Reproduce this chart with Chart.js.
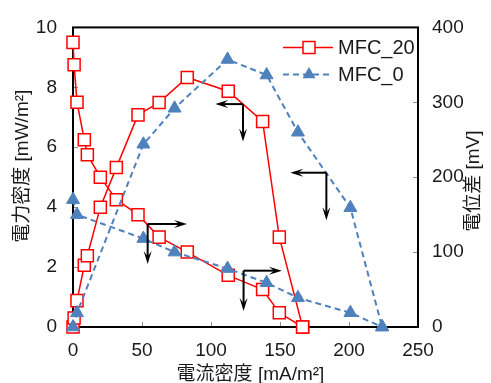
<!DOCTYPE html>
<html>
<head>
<meta charset="utf-8">
<script src="https://cdn.jsdelivr.net/npm/chart.js@4.4.1/dist/chart.umd.min.js"></script>
<style>
  html, body { margin: 0; padding: 0; background: #fff; }
  canvas { display: block; }
</style>
</head>
<body>
<canvas id="chart" width="491" height="383"></canvas>
<script>
// MFC_20 : current density [mA/m2], power density [mW/m2], cell voltage [mV]
var currentMfc20 = [0, 0.8, 2.9, 8.2, 10.4, 19.8, 31.4, 47.1, 62.4, 82.8, 112.5, 137.4, 149.5, 166.4];
var powerMfc20 = [0, 0.30, 0.88, 2.06, 2.38, 4.0, 5.32, 7.08, 7.49, 8.33, 7.87, 6.86, 3.0, 0];
var voltageMfc20 = [380, 350, 300, 250, 230, 200, 170, 150, 120, 100, 69, 50, 19, 0];

// MFC_0
var currentMfc0 = [0, 2.9, 51, 73.6, 112, 140.3, 163, 201, 224];
var powerMfc0 = [0, 0.47, 6.1, 7.3, 8.93, 8.41, 6.5, 3.98, 0];
var voltageMfc0 = [170, 150, 118, 100, 78, 59, 39, 19, 0];

// tick labels
var currentTicks = [0, 50, 100, 150, 200, 250];
var powerTicks = [0, 2, 4, 6, 8, 10];
var voltageTicks = [0, 100, 200, 300, 400];

var seriesNames = ['MFC_20', 'MFC_0'];

// arrows telling which axis a curve belongs to (corner, horizontal tip, vertical tip)
var axisArrows = [
  { x : 123.2, y : 7.44, tipX : 103.1, tipY : 6.19 },
  { x : 183.6, y : 5.15, tipX : 157.5, tipY : 3.56 },
  { x : 54.1, y : 3.44, tipX : 82.6, tipY : 2.10 },
  { x : 123.6, y : 1.88, tipX : 151.4, tipY : 0.53 },
];

var RED = '#ff0000';
var BLUE = '#4f81bd';
var TEXT = '#1a1a1a';
var FONT = "'Liberation Sans', 'Noto Sans CJK JP', Arial, sans-serif";

Chart.defaults.font.family = FONT;
Chart.defaults.color = TEXT;

function points(xs, ys) {
  return xs.map(function (x, i) { return { x : x, y : ys[i] }; });
}

function fixTicks(values) {
  return function (scale) {
    scale.ticks = values.map(function (v) { return { value : v }; });
  };
}

function redSet(data, axis) {
  return {
    data : data,
    yAxisID : axis,
    order : 1,
    clip : false,
    borderColor : RED,
    borderWidth : 1.5,
    pointStyle : 'rect',
    pointRadius : 8.5,
    pointBackgroundColor : '#fff',
    pointBorderColor : RED,
    pointBorderWidth : 1.5,
    tension : 0,
  };
}

function blueSet(data, axis) {
  return {
    data : data,
    yAxisID : axis,
    order : 0,
    clip : false,
    borderColor : BLUE,
    borderWidth : 2,
    borderDash : [6, 4],
    pointStyle : 'triangle',
    pointRadius : 7.5,
    pointBackgroundColor : BLUE,
    pointBorderColor : BLUE,
    pointBorderWidth : 1,
    tension : 0,
  };
}

function drawArrow(ctx, x0, y0, x1, y1) {
  var ang = Math.atan2(y1 - y0, x1 - x0);
  var len = 13;
  var half = 4;
  ctx.beginPath();
  ctx.moveTo(x0, y0);
  ctx.lineTo(x1 - Math.cos(ang) * len * 0.6, y1 - Math.sin(ang) * len * 0.6);
  ctx.stroke();
  ctx.save();
  ctx.translate(x1, y1);
  ctx.rotate(ang);
  ctx.beginPath();
  ctx.moveTo(0, 0);
  ctx.lineTo(-len, -half);
  ctx.lineTo(-len * 0.6, 0);
  ctx.lineTo(-len, half);
  ctx.closePath();
  ctx.fill();
  ctx.restore();
}

function legendMarker(ctx, style, x, y) {
  ctx.beginPath();
  if (style === 'rect') {
    ctx.rect(x - 6, y - 6, 12, 12);
    ctx.fillStyle = '#fff';
    ctx.strokeStyle = RED;
    ctx.lineWidth = 1.5;
    ctx.setLineDash([]);
    ctx.fill();
    ctx.stroke();
  } else {
    ctx.moveTo(x, y - 7.5);
    ctx.lineTo(x + 6.5, y + 3.75);
    ctx.lineTo(x - 6.5, y + 3.75);
    ctx.closePath();
    ctx.fillStyle = BLUE;
    ctx.fill();
  }
}

var decor = {
  id : 'decor',
  beforeDatasetsDraw : function (chart) {
    var ctx = chart.ctx;
    var a = chart.chartArea;
    var sx = chart.scales.x;
    var sy = chart.scales.y;
    var sy1 = chart.scales.y1;
    ctx.save();

    // inner tick marks
    ctx.strokeStyle = '#8c8c8c';
    ctx.lineWidth = 1;
    ctx.beginPath();
    currentTicks.forEach(function (v) {
      var px = Math.round(sx.getPixelForValue(v)) + 0.5;
      ctx.moveTo(px, a.bottom);
      ctx.lineTo(px, a.bottom - 5);
    });
    powerTicks.forEach(function (v) {
      var py = Math.round(sy.getPixelForValue(v)) + 0.5;
      ctx.moveTo(a.left, py);
      ctx.lineTo(a.left + 5, py);
    });
    voltageTicks.forEach(function (v) {
      var py = Math.round(sy1.getPixelForValue(v)) + 0.5;
      ctx.moveTo(a.right, py);
      ctx.lineTo(a.right - 5, py);
    });
    ctx.stroke();

    // frame
    ctx.strokeStyle = '#000';
    ctx.lineWidth = 2;
    ctx.strokeRect(a.left, a.top, a.right - a.left, a.bottom - a.top);
    ctx.restore();
  },
  afterDatasetsDraw : function (chart) {
    var ctx = chart.ctx;
    var a = chart.chartArea;
    var sx = chart.scales.x;
    var sy = chart.scales.y;
    ctx.save();

    // axis arrows
    ctx.strokeStyle = '#000';
    ctx.fillStyle = '#000';
    ctx.lineWidth = 2;
    ctx.setLineDash([]);
    axisArrows.forEach(function (ar) {
      var cx = sx.getPixelForValue(ar.x);
      var cy = sy.getPixelForValue(ar.y);
      drawArrow(ctx, cx, cy, sx.getPixelForValue(ar.tipX), cy);
      drawArrow(ctx, cx, cy, cx, sy.getPixelForValue(ar.tipY));
    });

    // legend (line + marker + label)
    var rows = [
      { name : seriesNames[0], color : RED, dash : [], width : 1.5, style : 'rect' },
      { name : seriesNames[1], color : BLUE, dash : [6, 4], width : 2, style : 'triangle' },
    ];
    rows.forEach(function (r, i) {
      var y = a.top + 20 + i * 27;
      var x0 = a.right - 135;
      ctx.strokeStyle = r.color;
      ctx.lineWidth = r.width;
      ctx.setLineDash(r.dash);
      ctx.beginPath();
      ctx.moveTo(x0, y);
      ctx.lineTo(x0 + 50, y);
      ctx.stroke();
      ctx.setLineDash([]);
      legendMarker(ctx, r.style, x0 + 26, y);
      ctx.fillStyle = TEXT;
      ctx.font = '20px ' + FONT;
      ctx.textAlign = 'left';
      ctx.textBaseline = 'middle';
      ctx.fillText(r.name, x0 + 55, y + 1);
    });

    // axis titles
    ctx.fillStyle = TEXT;
    ctx.font = '19px ' + FONT;
    ctx.textAlign = 'center';
    ctx.textBaseline = 'middle';
    var midY = (a.top + a.bottom) / 2;

    ctx.save();
    ctx.translate(a.left - 50, midY - 11);
    ctx.rotate(-Math.PI / 2);
    ctx.fillText('電力密度 [mW/m²]', 0, 0);
    ctx.restore();

    ctx.save();
    ctx.translate(a.right + 56, midY + 4);
    ctx.rotate(-Math.PI / 2);
    ctx.fillText('電位差 [mV]', 0, 0);
    ctx.restore();

    ctx.fillText('電流密度 [mA/m²]', (a.left + a.right) / 2 + 5, a.bottom + 48);
    ctx.restore();
  },
};

var ctx = document.getElementById('chart').getContext('2d');

var chart = new Chart(ctx, {
  type : 'line',
  data : {
    datasets : [
      redSet(points(currentMfc20, powerMfc20), 'y'),
      redSet(points(currentMfc20, voltageMfc20), 'y1'),
      blueSet(points(currentMfc0, powerMfc0), 'y'),
      blueSet(points(currentMfc0, voltageMfc0), 'y1'),
    ],
  },
  options : {
    responsive : false,
    animation : false,
    devicePixelRatio : 1,
    layout : { padding : { top : 20, left : 0, right : 0, bottom : 0 } },
    plugins : {
      legend : { display : false },
      tooltip : { enabled : false },
    },
    scales : {
      x : {
        type : 'linear',
        min : 0,
        max : 250,
        afterBuildTicks : fixTicks(currentTicks),
        afterFit : function (s) { s.height = 56; },
        grid : { display : false, drawTicks : false },
        border : { display : false },
        ticks : { padding : 12, font : { size : 19 }, color : TEXT, maxRotation : 0 },
      },
      y : {
        position : 'left',
        min : 0,
        max : 10,
        afterBuildTicks : fixTicks(powerTicks),
        afterFit : function (s) { s.width = 73; },
        grid : { display : false, drawTicks : false },
        border : { display : false },
        ticks : { padding : 16, font : { size : 19 }, color : TEXT },
      },
      y1 : {
        position : 'right',
        min : 0,
        max : 400,
        afterBuildTicks : fixTicks(voltageTicks),
        afterFit : function (s) { s.width = 73; },
        grid : { display : false, drawTicks : false },
        border : { display : false },
        ticks : { padding : 14, font : { size : 19 }, color : TEXT },
      },
    },
  },
  plugins : [decor],
});
</script>
</body>
</html>
